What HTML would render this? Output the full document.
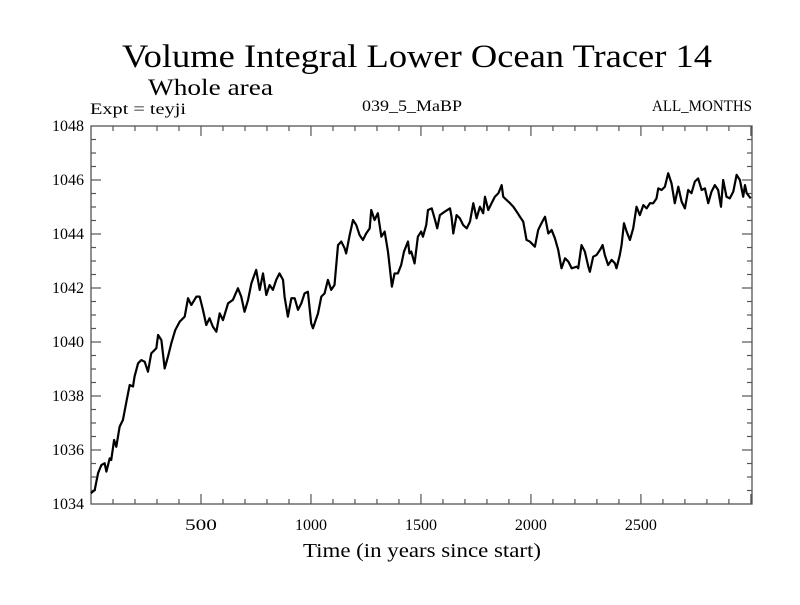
<!DOCTYPE html>
<html><head><meta charset="utf-8"><style>
html,body{margin:0;padding:0;background:#fff}
svg, svg text{font-family:"Liberation Serif","Times New Roman",Times,serif}
</style></head><body>
<svg id="chart" width="800" height="600" viewBox="0 0 800 600" xmlns="http://www.w3.org/2000/svg" font-family="Liberation Serif, Times New Roman, Times, serif">
<rect width="800" height="600" fill="#fff"/>
<text x="417" y="67" font-size="33" text-anchor="middle" textLength="590" lengthAdjust="spacingAndGlyphs">Volume Integral Lower Ocean Tracer 14</text>
<text x="148" y="95" font-size="23" textLength="125" lengthAdjust="spacingAndGlyphs">Whole area</text>
<text x="90" y="114" font-size="16" textLength="96" lengthAdjust="spacingAndGlyphs">Expt = teyji</text>
<text x="412" y="111" font-size="16" text-anchor="middle" textLength="100" lengthAdjust="spacingAndGlyphs">039_5_MaBP</text>
<text x="752" y="111" font-size="16" text-anchor="end" textLength="100" lengthAdjust="spacingAndGlyphs">ALL_MONTHS</text>
<text x="422" y="557" font-size="20" text-anchor="middle" textLength="238" lengthAdjust="spacingAndGlyphs">Time (in years since start)</text>
<g id="axes"></g>
<g id="series"></g>
</svg>
<script>
const years = [0,17,32,47,62,70,85,92,105,115,130,145,161,176,191,198,214,229,244,259,274,297,305,320,335,350,365,383,403,426,441,456,479,494,509,524,539,554,570,585,600,623,645,668,683,698,714,729,751,767,782,797,812,827,842,857,873,880,895,911,926,941,956,971,986,1001,1009,1032,1047,1062,1077,1092,1107,1123,1138,1153,1160,1176,1191,1206,1221,1236,1251,1267,1274,1289,1304,1320,1335,1350,1357,1368,1380,1395,1410,1423,1441,1448,1456,1471,1486,1501,1509,1524,1532,1549,1564,1574,1586,1609,1632,1639,1647,1662,1677,1692,1708,1723,1738,1753,1768,1783,1791,1806,1821,1836,1852,1867,1874,1889,1905,1920,1935,1950,1965,1980,1995,2018,2033,2048,2064,2079,2094,2109,2124,2139,2155,2170,2185,2208,2215,2230,2245,2261,2268,2283,2298,2314,2326,2336,2351,2367,2382,2389,2404,2412,2423,2435,2450,2465,2480,2495,2511,2526,2541,2556,2571,2579,2594,2609,2624,2639,2654,2670,2685,2700,2715,2730,2745,2760,2776,2791,2806,2821,2836,2851,2864,2874,2889,2904,2920,2935,2950,2965,2973,2981,2999];
const tracer = [1034.40,1034.52,1035.14,1035.44,1035.51,1035.20,1035.69,1035.63,1036.37,1036.12,1036.86,1037.11,1037.79,1038.41,1038.35,1038.72,1039.21,1039.33,1039.27,1038.90,1039.58,1039.77,1040.26,1040.07,1039.02,1039.46,1039.95,1040.44,1040.75,1040.94,1041.62,1041.37,1041.68,1041.68,1041.19,1040.63,1040.88,1040.57,1040.38,1041.06,1040.81,1041.43,1041.56,1041.99,1041.68,1041.12,1041.56,1042.17,1042.67,1041.93,1042.54,1041.74,1042.11,1041.93,1042.30,1042.54,1042.30,1041.68,1040.94,1041.62,1041.62,1041.19,1041.43,1041.80,1041.86,1040.69,1040.51,1041.06,1041.68,1041.80,1042.30,1041.93,1042.11,1043.59,1043.72,1043.47,1043.28,1043.96,1044.52,1044.33,1043.96,1043.78,1044.02,1044.21,1044.89,1044.52,1044.77,1043.90,1044.09,1043.35,1042.85,1042.05,1042.54,1042.54,1042.85,1043.35,1043.72,1043.28,1043.35,1042.91,1043.90,1044.09,1043.90,1044.33,1044.89,1044.95,1044.52,1044.21,1044.70,1044.83,1044.95,1044.64,1044.02,1044.70,1044.58,1044.33,1044.21,1044.46,1045.14,1044.58,1045.01,1044.77,1045.38,1044.89,1045.14,1045.38,1045.51,1045.81,1045.38,1045.26,1045.14,1045.01,1044.83,1044.64,1044.46,1043.78,1043.72,1043.53,1044.15,1044.40,1044.64,1044.02,1044.15,1043.84,1043.41,1042.73,1043.10,1042.98,1042.73,1042.79,1042.73,1043.59,1043.35,1042.79,1042.60,1043.16,1043.22,1043.41,1043.59,1043.22,1042.85,1043.04,1042.91,1042.73,1043.22,1043.59,1044.40,1044.09,1043.78,1044.21,1045.01,1044.70,1045.07,1044.95,1045.14,1045.14,1045.32,1045.69,1045.63,1045.75,1046.25,1045.88,1045.14,1045.75,1045.20,1044.95,1045.63,1045.51,1045.94,1046.06,1045.63,1045.69,1045.14,1045.57,1045.81,1045.63,1045.01,1046.00,1045.38,1045.32,1045.57,1046.19,1046.00,1045.38,1045.81,1045.51,1045.32];
const xTickLabels = [500,1000,1500,2000,2500];
const yTickLabels = [1034,1036,1038,1040,1042,1044,1046,1048];

const NS = "http://www.w3.org/2000/svg";
const L = 91, R = 752, T = 126, B = 504;
const X0 = 0, X1 = 3005, Y0 = 1034, Y1 = 1048;
function xs(v){ return L + (v - X0) / (X1 - X0) * (R - L); }
function ys(v){ return B - (v - Y0) / (Y1 - Y0) * (B - T); }
function mk(tag, attrs, parent){
  const e = document.createElementNS(NS, tag);
  for (const k in attrs) e.setAttribute(k, attrs[k]);
  parent.appendChild(e);
  return e;
}
const axes = document.getElementById("axes");
const frame = mk("rect", {x:L, y:T, width:R-L, height:B-T, fill:"none", stroke:"#555", "stroke-width":1.3}, axes);


for (let v = 100; v < X1; v += 100) {
  const major = v % 500 === 0;
  const len = major ? 10 : 5;
  const x = xs(v);
  const tb = mk("line", {x1:x, x2:x, y1:B, y2:B-len, stroke:"#555", "stroke-width":1.2}, axes);
  
  
  const tt = mk("line", {x1:x, x2:x, y1:T, y2:T+len, stroke:"#555", "stroke-width":1.2}, axes);
  
  
}
xTickLabels.forEach(v => {
  const t = mk("text", {x:xs(v), y:530, "font-size":16, "text-anchor":"middle", textLength:32, lengthAdjust:"spacingAndGlyphs"}, axes);
  t.textContent = v;
  
  
});
for (let i = 1; i < (Y1 - Y0) * 2; i++) {
  const v = Y0 + i * 0.5;
  const major = i % 4 === 0;
  const len = major ? 10 : 5;
  const y = ys(v);
  const tl = mk("line", {x1:L, x2:L+len, y1:y, y2:y, stroke:"#555", "stroke-width":1.2}, axes);
  
  
  const tr = mk("line", {x1:R, x2:R-len, y1:y, y2:y, stroke:"#555", "stroke-width":1.2}, axes);
  
  
}
yTickLabels.forEach(v => {
  const t = mk("text", {x:84, y:ys(v)+5, "font-size":16, "text-anchor":"end", textLength:32, lengthAdjust:"spacingAndGlyphs"}, axes);
  t.textContent = v;
  
  
});
const series = document.getElementById("series");
const d = years.map((yr, i) => (i ? "L" : "M") + xs(yr).toFixed(2) + "," + ys(tracer[i]).toFixed(2)).join(" ");
const line = mk("path", {d:d, fill:"none", stroke:"#000", "stroke-width":2.2, "stroke-linejoin":"round"}, series);


</script>
</body></html>
